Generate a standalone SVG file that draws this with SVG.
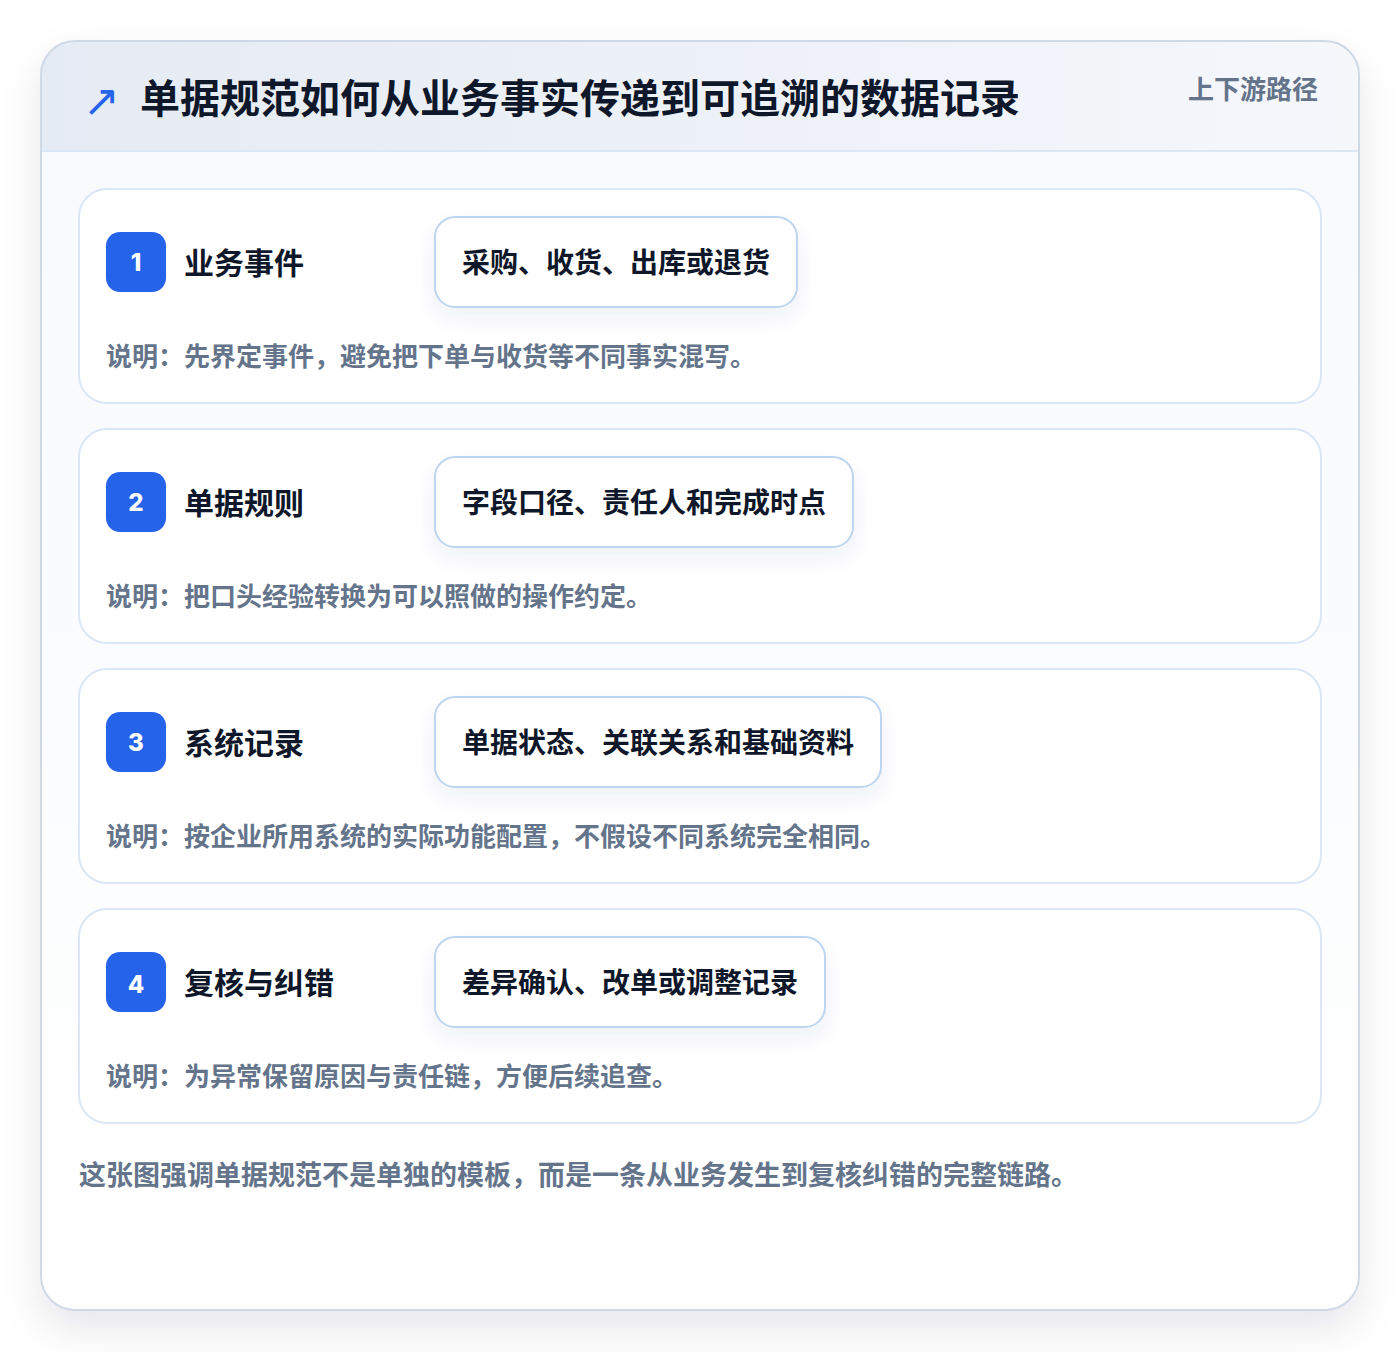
<svg xmlns="http://www.w3.org/2000/svg" width="1400" height="1352" viewBox="0 0 1400 1352">
  <defs>
    <linearGradient id="hdr" x1="0" y1="0" x2="1" y2="0">
      <stop offset="0" stop-color="#e5ebf4"/>
      <stop offset="1" stop-color="#f5f7fb"/>
    </linearGradient>
    <linearGradient id="body" x1="0" y1="0" x2="0" y2="1">
      <stop offset="0" stop-color="#f7f9fc"/>
      <stop offset="1" stop-color="#ffffff"/>
    </linearGradient>
    <filter id="outerShadow" x="-10%" y="-10%" width="120%" height="125%">
      <feDropShadow dx="0" dy="18" stdDeviation="20" flood-color="#0f172a" flood-opacity="0.10"/>
    </filter>
    <filter id="pillShadow" x="-20%" y="-30%" width="140%" height="180%">
      <feDropShadow dx="0" dy="10" stdDeviation="10" flood-color="#1e3a8a" flood-opacity="0.07"/>
    </filter>
    <clipPath id="cardClip">
      <rect x="41" y="41" width="1318" height="1269" rx="34"/>
    </clipPath>
    <style>
      .cjk { font-family: "Noto Sans CJK SC", "Noto Sans", sans-serif; font-weight: 700; }
      .title { font-size: 40px; fill: #0f172a; }
      .tag { font-size: 26px; fill: #64748b; }
      .step { fill: #ffffff; stroke: #dbe7f6; stroke-width: 2; }
      .badge { fill: #2563eb; }
      .num { font-family: "Inter", "Liberation Sans", sans-serif; font-weight: 800; font-size: 24px; fill: #ffffff; text-anchor: middle; }
      .stitle { font-size: 30px; fill: #0f172a; }
      .pill { fill: #ffffff; stroke: #bcd5f1; stroke-width: 2; }
      .ptext { font-size: 28px; fill: #0f172a; }
      .desc { font-size: 26px; fill: #64748b; }
      .foot { font-size: 27px; fill: #64748b; }
    </style>
  </defs>

  <rect width="1400" height="1352" fill="#ffffff"/>

  <g id="frame">
    <rect x="41" y="41" width="1318" height="1269" rx="34" fill="url(#body)" filter="url(#outerShadow)"/>
    <g clip-path="url(#cardClip)">
      <rect x="41" y="41" width="1318" height="110" fill="url(#hdr)"/>
    </g>
    <line x1="41" y1="151" x2="1359" y2="151" stroke="#dce7f5" stroke-width="2"/>
    <rect x="41" y="41" width="1318" height="1269" rx="34" fill="none" stroke="#cfd9e6" stroke-width="2"/>
  </g>

  <g id="header">
    <text x="83" y="116" font-family="DejaVu Sans, sans-serif" font-size="44" font-weight="400" fill="#2563eb">↗</text>
    <text class="cjk title" x="140" y="113">单据规范如何从业务事实传递到可追溯的数据记录</text>
    <text class="cjk tag" x="1318" y="99" text-anchor="end">上下游路径</text>
  </g>

  <g id="connectors"></g>

  <g id="step1">
    <rect class="step" x="79" y="189" width="1242" height="214" rx="28"/>
    <rect class="badge" x="106" y="232" width="60" height="60" rx="14"/>
    <text class="num" x="136" y="271">1</text>
    <text class="cjk stitle" x="184" y="274">业务事件</text>
    <rect class="pill" x="435" y="217" width="362" height="90" rx="20" filter="url(#pillShadow)"/>
    <text class="cjk ptext" x="462" y="273">采购、收货、出库或退货</text>
    <text class="cjk desc" x="106" y="366">说明：先界定事件，避免把下单与收货等不同事实混写。</text>
  </g>

  <g id="step2">
    <rect class="step" x="79" y="429" width="1242" height="214" rx="28"/>
    <rect class="badge" x="106" y="472" width="60" height="60" rx="14"/>
    <text class="num" x="136" y="511">2</text>
    <text class="cjk stitle" x="184" y="514">单据规则</text>
    <rect class="pill" x="435" y="457" width="418" height="90" rx="20" filter="url(#pillShadow)"/>
    <text class="cjk ptext" x="462" y="513">字段口径、责任人和完成时点</text>
    <text class="cjk desc" x="106" y="606">说明：把口头经验转换为可以照做的操作约定。</text>
  </g>

  <g id="step3">
    <rect class="step" x="79" y="669" width="1242" height="214" rx="28"/>
    <rect class="badge" x="106" y="712" width="60" height="60" rx="14"/>
    <text class="num" x="136" y="751">3</text>
    <text class="cjk stitle" x="184" y="754">系统记录</text>
    <rect class="pill" x="435" y="697" width="446" height="90" rx="20" filter="url(#pillShadow)"/>
    <text class="cjk ptext" x="462" y="753">单据状态、关联关系和基础资料</text>
    <text class="cjk desc" x="106" y="846">说明：按企业所用系统的实际功能配置，不假设不同系统完全相同。</text>
  </g>

  <g id="step4">
    <rect class="step" x="79" y="909" width="1242" height="214" rx="28"/>
    <rect class="badge" x="106" y="952" width="60" height="60" rx="14"/>
    <text class="num" x="136" y="993">4</text>
    <text class="cjk stitle" x="184" y="994">复核与纠错</text>
    <rect class="pill" x="435" y="937" width="390" height="90" rx="20" filter="url(#pillShadow)"/>
    <text class="cjk ptext" x="462" y="993">差异确认、改单或调整记录</text>
    <text class="cjk desc" x="106" y="1086">说明：为异常保留原因与责任链，方便后续追查。</text>
  </g>

  <g id="footer">
    <text class="cjk foot" x="79" y="1185">这张图强调单据规范不是单独的模板，而是一条从业务发生到复核纠错的完整链路。</text>
  </g>
</svg>
